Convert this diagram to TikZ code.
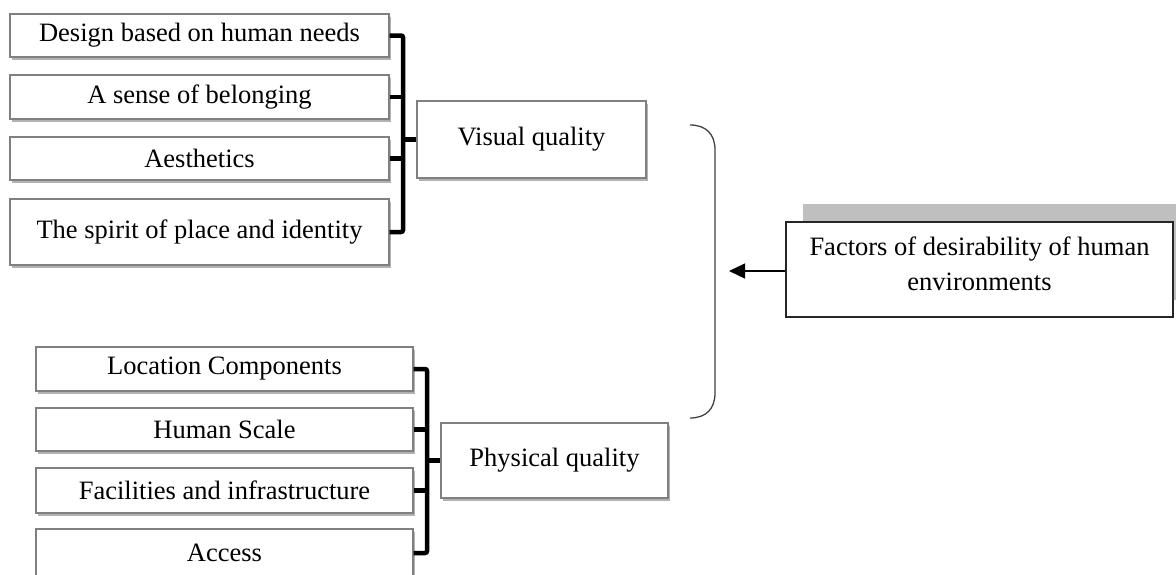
\documentclass[tikz,border=0pt]{standalone}
\usepackage{fontspec}
\setmainfont{Liberation Serif}
\usetikzlibrary{shadows,arrows.meta}
\begin{document}
\begin{tikzpicture}[x=1pt,y=-1pt,
  itembox/.style={draw=black!50, line width=1.2pt, fill=white, inner sep=0pt,
    font=\fontsize{26.5}{35}\selectfont, align=center,
    drop shadow={shadow xshift=1.5pt, shadow yshift=-2.5pt, fill=black, opacity=0.3}},
  mainbox/.style={draw=black!85, line width=1.4pt, fill=white, inner sep=0pt,
    font=\fontsize{26.5}{35}\selectfont, align=center},
  brk/.style={line width=4.5pt, black, rounded corners=2pt},
  curl/.style={draw=black!75, line width=1.3pt},
  arr/.style={line width=1.2pt, -{Triangle[length=16pt,width=15pt]}}
]
\useasboundingbox (0,0) rectangle (1176,574);
\begin{scope}
\clip (0,0) rectangle (1176,574);
% upper group
\node[itembox, minimum width=379pt, minimum height=43pt] (b1) at (199.5,35.5) {Design based on human needs};
\node[itembox, minimum width=379pt, minimum height=44pt] (b2) at (199.5,97) {A sense of belonging};
\node[itembox, minimum width=379pt, minimum height=43pt] (b3) at (199.5,158.5) {Aesthetics};
\node[itembox, minimum width=379pt, minimum height=66pt] (b4) at (199.5,232) {The spirit of place and identity};
\node[itembox, minimum width=229pt, minimum height=77pt] (vis) at (531.5,139.5) {Visual quality};
\coordinate (vb) at (403,0);
\draw[brk] (b1.east) -- (b1.east -| vb) -- (b4.east -| vb) -- (b4.east);
\draw[brk] (b2.east) -- (b2.east -| vb);
\draw[brk] (b3.east) -- (b3.east -| vb);
\draw[brk] (vis.west -| vb) -- (vis.west);
% lower group
\node[itembox, minimum width=377pt, minimum height=44pt] (p1) at (224.5,369) {Location Components};
\node[itembox, minimum width=377pt, minimum height=43pt] (p2) at (224.5,429.5) {Human Scale};
\node[itembox, minimum width=377pt, minimum height=45pt] (p3) at (224.5,490.5) {Facilities and infrastructure};
\node[itembox, minimum width=377pt, minimum height=48pt] (p4) at (224.5,553) {Access};
\node[itembox, minimum width=227pt, minimum height=75pt] (phy) at (554.5,460.5) {Physical quality};
\coordinate (pb) at (427,0);
\draw[brk] (p1.east) -- (p1.east -| pb) -- (p4.east -| pb) -- (p4.east);
\draw[brk] (p2.east) -- (p2.east -| pb);
\draw[brk] (p3.east) -- (p3.east -| pb);
\draw[brk] (phy.west -| pb) -- (phy.west);
% right part
\fill[black!25] (803,204) rectangle (1176,300);
\node[mainbox, minimum width=387pt, minimum height=95pt, text depth=12pt] (fac) at (979.5,269.5) {Factors of desirability of human\\environments};
\draw[curl] (690,125) .. controls (706,125) and (715,134) .. (715,150) -- (715,393) .. controls (715,409) and (706,418) .. (690,418);
\coordinate (tip) at (729,271);
\draw[arr] (fac.west |- tip) -- (tip);
\end{scope}
\end{tikzpicture}
\end{document}
